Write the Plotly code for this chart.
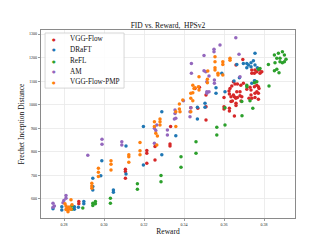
import plotly.graph_objects as go

# ---- data ----
vgg_reward = [0.2874, 0.2874, 0.3107, 0.3107, 0.3107, 0.3214, 0.3214, 0.3214, 0.3255, 0.3255,
              0.3330, 0.3330, 0.3333, 0.3434, 0.3469, 0.3455, 0.3477, 0.3510, 0.3510, 0.3510,
              0.3600, 0.3600, 0.3600, 0.3627, 0.3627, 0.3652, 0.3635, 0.3652, 0.3659, 0.3667,
              0.3689, 0.3635, 0.3642, 0.3660, 0.3660, 0.3755, 0.3772, 0.3755, 0.3764, 0.3752,
              0.3655, 0.3667, 0.3684, 0.3697, 0.3639, 0.3630, 0.3625, 0.3627, 0.3647, 0.3664,
              0.3680, 0.3680, 0.3685, 0.3714, 0.3730, 0.3735, 0.3752, 0.3764, 0.3772, 0.3775,
              0.3764, 0.3755, 0.3735, 0.3725, 0.3739, 0.3772, 0.3694, 0.3660, 0.3739, 0.3777,
              0.3780, 0.3789, 0.3739, 0.3647]
vgg_fid = [589, 579, 726, 716, 688, 805, 794, 751, 822, 765,
           833, 825, 907, 987, 985, 1069, 1074, 1041, 935, 991,
           1030, 991, 982, 985, 973, 952, 1034, 1034, 1027, 1030,
           1034, 1013, 1016, 1006, 996, 1030, 1023, 1147, 1140, 1133,
           1088, 1088, 1083, 1091, 1079, 1069, 1058, 1045, 1041, 1055,
           1055, 1038, 1016, 1065, 1074, 1062, 1076, 1083, 1076, 1069,
           1055, 1048, 1041, 1027, 1027, 1048, 1192, 1168, 1147, 1147,
           1133, 1140, 1133, 1097]

draft_reward = [0.2745, 0.2789, 0.2789, 0.2852, 0.2852, 0.2872, 0.2899, 0.2899, 0.2944, 0.2944,
                0.2944, 0.2984, 0.2989, 0.3047, 0.3047, 0.3110, 0.3110, 0.3197, 0.3197, 0.3289,
                0.3289, 0.3359, 0.3467, 0.3467, 0.3505, 0.3505, 0.3560, 0.3560, 0.3605, 0.3589,
                0.3650, 0.3677, 0.3664, 0.3697, 0.3714, 0.3722, 0.3735, 0.3747, 0.3755, 0.3714,
                0.3735, 0.3755, 0.3767, 0.3755, 0.3739, 0.3752]
draft_fid = [558, 567, 553, 567, 556, 565, 589, 579, 688, 653,
             638, 698, 762, 638, 628, 825, 706, 907, 744, 970,
             787, 868, 939, 989, 989, 1006, 1048, 1072, 1055, 1133,
             1100, 1114, 1171, 1175, 1175, 1168, 1178, 1186, 1168, 1157,
             1161, 1218, 1157, 1100, 1091, 1102]

refl_reward = [0.2839, 0.2839, 0.2894, 0.2944, 0.2944, 0.2957, 0.2957, 0.3032, 0.3032, 0.3167,
               0.3167, 0.3285, 0.3285, 0.3385, 0.3385, 0.3460, 0.3460, 0.3564, 0.3564, 0.3605,
               0.3605, 0.3690, 0.3689, 0.3730, 0.3744, 0.3714, 0.3714, 0.3752, 0.3764, 0.3772,
               0.3780, 0.3825, 0.3822, 0.3852, 0.3864, 0.3875, 0.3852, 0.3872, 0.3892, 0.3902,
               0.3864, 0.3880, 0.3892, 0.3902, 0.3855, 0.3910, 0.3880]
refl_fid = [570, 556, 561, 582, 572, 589, 579, 603, 582, 664,
            641, 699, 673, 779, 734, 843, 794, 904, 871, 914,
            987, 953, 1013, 1017, 985, 1083, 1076, 1093, 1097, 1150,
            1154, 1079, 1171, 1144, 1150, 1136, 1211, 1218, 1225, 1211,
            1197, 1182, 1178, 1182, 1178, 1193, 1197]

am_reward = [0.2745, 0.2752, 0.2745, 0.2810, 0.2810, 0.2799, 0.2795, 0.2919, 0.2990, 0.2990,
             0.3089, 0.3089, 0.3252, 0.3259, 0.3252, 0.3317, 0.3317, 0.3359, 0.3264, 0.3355,
             0.3355, 0.3352, 0.3430, 0.3430, 0.3397, 0.3437, 0.3437, 0.3500, 0.3500, 0.3509,
             0.3525, 0.3552, 0.3552, 0.3514, 0.3514, 0.3514, 0.3525, 0.3550, 0.3550, 0.3580,
             0.3659, 0.3675, 0.3680, 0.3434]
am_fid = [582, 570, 565, 614, 603, 593, 584, 785, 853, 832,
          843, 829, 900, 890, 836, 893, 871, 942, 914, 977,
          963, 939, 970, 949, 1017, 1175, 1133, 1209, 1144, 1140,
          1122, 1105, 1091, 1097, 1055, 1048, 1055, 1235, 1225, 1253,
          1284, 1214, 1119, 987]

pmp_reward = [0.2805, 0.2810, 0.2815, 0.2820, 0.2825, 0.2830, 0.2810, 0.2835, 0.2835, 0.2840,
              0.2820, 0.2939, 0.2939, 0.2939, 0.2972, 0.2972, 0.2972, 0.3035, 0.3035, 0.3035,
              0.3124, 0.3124, 0.3124, 0.3180, 0.3180, 0.3180, 0.3252, 0.3252, 0.3280, 0.3280,
              0.3280, 0.3359, 0.3359, 0.3380, 0.3259, 0.3267, 0.3264, 0.3377, 0.3377, 0.3394,
              0.3434, 0.3444, 0.3434, 0.3444, 0.3444, 0.3455, 0.3475, 0.3475, 0.3517, 0.3517,
              0.3434, 0.3555, 0.3555, 0.3594, 0.3594, 0.3630, 0.3630, 0.3570, 0.3570, 0.3594,
              0.3555, 0.3555, 0.3519, 0.3472, 0.3450]
pmp_fid = [579, 570, 562, 553, 566, 558, 555, 596, 556, 575,
           545, 667, 655, 645, 730, 713, 695, 762, 747, 723,
           787, 779, 756, 840, 804, 787, 928, 907, 939, 928,
           914, 907, 970, 970, 879, 867, 829, 1003, 982, 1020,
           1048, 1051, 1027, 1017, 1083, 1072, 1062, 1119, 1108, 1093,
           970, 1203, 1182, 1182, 1171, 1197, 1189, 1133, 1126, 1126,
           1157, 1147, 1143, 1076, 1069]

series_names = ["VGG-Flow", "DRaFT", "ReFL", "AM", "VGG-Flow-PMP"]
series_colors = ["#d62728", "#1f77b4", "#2ca02c", "#9467bd", "#ff7f0e"]
series_x = [vgg_reward, draft_reward, refl_reward, am_reward, pmp_reward]
series_y = [vgg_fid, draft_fid, refl_fid, am_fid, pmp_fid]

x_ticks = [0.28, 0.30, 0.32, 0.34, 0.36, 0.38]
y_ticks = [600, 700, 800, 900, 1000, 1100, 1200, 1300]

SERIF = "Liberation Serif, Times New Roman, serif"

fig = go.Figure()
for name, col, xs, ys in zip(series_names, series_colors, series_x, series_y):
    fig.add_trace(go.Scatter(x=xs, y=ys, mode="markers", name=name,
                             marker=dict(color=col, size=3.5, line=dict(width=0)),
                             showlegend=False))

fig.update_layout(
    width=329, height=247,
    margin=dict(l=41, r=34, t=30, b=29),
    paper_bgcolor="white", plot_bgcolor="white",
    title=dict(text="FID vs. Reward,  HPSv2", x=0.5, xref="paper", xanchor="center",
               yref="paper", y=1.0, yanchor="bottom", pad=dict(b=2, t=0, l=0, r=0),
               font=dict(family=SERIF, size=7.5, color="#111")),
    font=dict(family=SERIF, color="#111"),
)

fig.update_xaxes(range=[0.2685, 0.3955], tickvals=x_ticks,
                 ticktext=[f"{v:.2f}" for v in x_ticks],
                 tickfont=dict(family=SERIF, size=4, color="#222"),
                 showgrid=True, gridcolor="#e8e8e8", gridwidth=0.8,
                 zeroline=False, showline=True, linecolor="#8a8a8a", linewidth=1.2,
                 mirror=True, ticks="outside", ticklen=2, tickwidth=0.6, tickcolor="#555",
                 title=dict(text="Reward", font=dict(family=SERIF, size=7.5, color="#111"),
                            standoff=2))
fig.update_yaxes(range=[519, 1317], tickvals=y_ticks,
                 ticktext=[str(v) for v in y_ticks],
                 tickfont=dict(family=SERIF, size=4, color="#222"),
                 showgrid=True, gridcolor="#e8e8e8", gridwidth=0.8,
                 zeroline=False, showline=True, linecolor="#8a8a8a", linewidth=1.2,
                 mirror=True, ticks="outside", ticklen=2, tickwidth=0.6, tickcolor="#555",
                 title=dict(text="Frechet Inception Distance",
                            font=dict(family=SERIF, size=7.5, color="#111"), standoff=3))

# manual compact legend (matplotlib-like)
fig.add_shape(type="rect", xref="paper", yref="paper",
              x0=0.016, x1=0.327, y0=0.691, y1=0.984,
              line=dict(color="#cccccc", width=0.8), fillcolor="rgba(255,255,255,0.85)",
              layer="above")
leg_y = [0.952, 0.894, 0.835, 0.777, 0.723]
for name, col, yy in zip(series_names, series_colors, leg_y):
    fig.add_annotation(xref="paper", yref="paper", x=0.051, y=yy, text="●",
                       showarrow=False, xanchor="center", yanchor="middle",
                       font=dict(family="DejaVu Sans", size=4, color=col))
    fig.add_annotation(xref="paper", yref="paper", x=0.108, y=yy, text=name,
                       showarrow=False, xanchor="left", yanchor="middle",
                       font=dict(family=SERIF, size=7.2, color="#111"))

fig.write_html("out.html",
               config={"displayModeBar": False, "staticPlot": True},
               post_script="document.body.style.margin='0';document.body.style.overflow='hidden';")
